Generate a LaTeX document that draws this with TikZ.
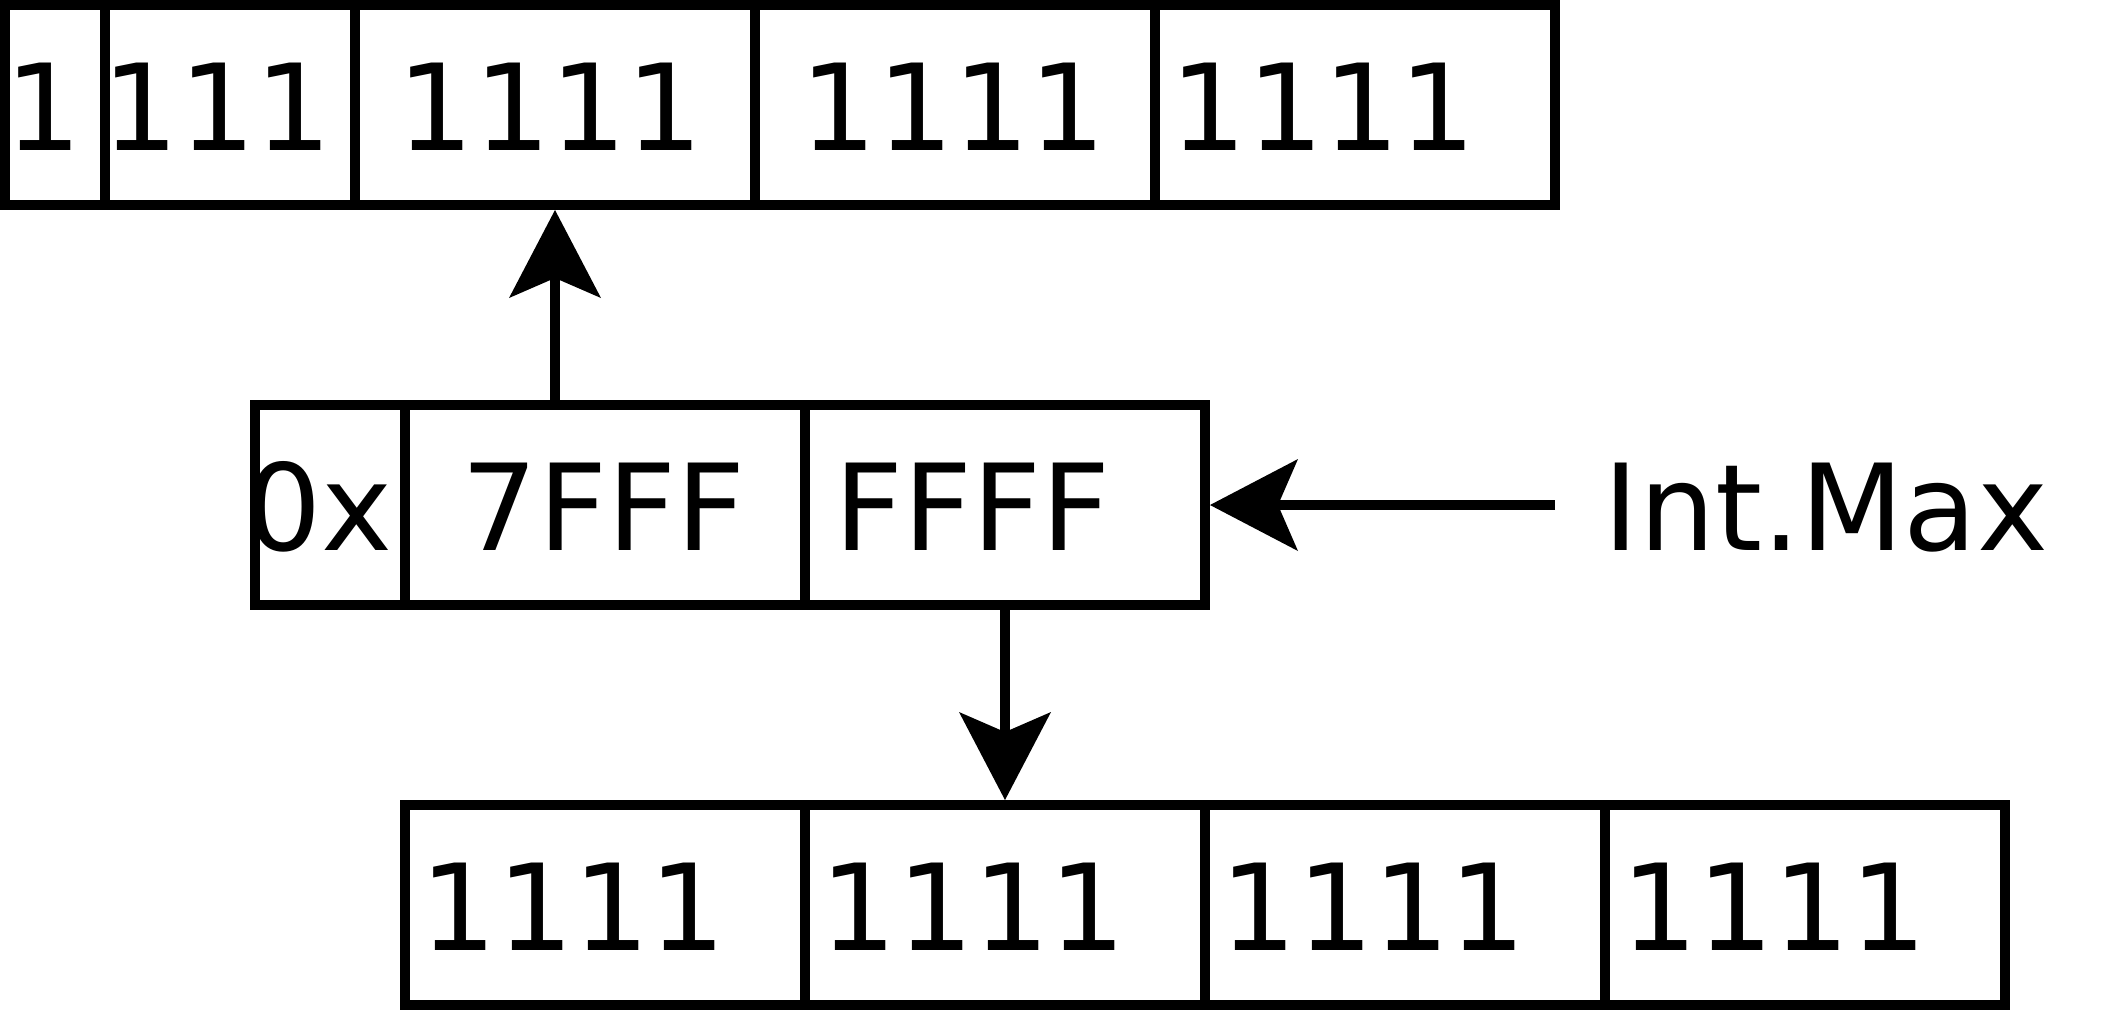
\documentclass[tikz,border=0pt]{standalone}
\usepackage{fontspec}
\setmainfont{DejaVu Sans}
\usetikzlibrary{arrows.meta}
\begin{document}
\begin{tikzpicture}[x=0.25pt,y=-0.25pt,
  cell/.style={draw, line width=2.5pt, minimum height=50pt, inner sep=0pt},
  wide/.style={cell, minimum width=100pt},
  lbl/.style={anchor=base, inner sep=0pt, font=\fontsize{30pt}{36pt}\selectfont},
  conn/.style={line width=2.5pt, -{Stealth[length=22pt, width=23pt, inset=5pt, line width=0pt]}}]
\useasboundingbox (0,0) rectangle (2120,1020);
% top row
\node[cell, minimum width=25pt]   (t1) at (55,105) {};
\node[cell, minimum width=62.5pt] (t2) at (230,105) {};
\node[wide] (t3) at (555,105) {};
\node[wide] (t4) at (955,105) {};
\node[wide] (t5) at (1355,105) {};
\node[lbl] (t1x) at (43.5,150) {1};
\node[lbl] (t2x) at (217.5,150) {111};
\node[lbl] (t3x) at (550.5,150) {1111};
\node[lbl] (t4x) at (953.5,150) {1111};
\node[lbl] (t5x) at (1323.5,150) {1111};
% middle row
\node[cell, minimum width=37.5pt] (m1) at (330,505) {};
\node[wide] (m2) at (605,505) {};
\node[wide] (m3) at (1005,505) {};
\node[lbl] (m1x) at (319,550) {0x};
\node[lbl] (m2x) at (603.5,550) {7FFF};
\node[lbl] (m3x) at (972.5,550) {FFFF};
\node[lbl] (imax) at (1826,550) {Int.Max};
% bottom row
\node[wide] (b1) at (605,905) {};
\node[wide] (b2) at (1005,905) {};
\node[wide] (b3) at (1405,905) {};
\node[wide] (b4) at (1805,905) {};
\node[lbl] (b1x) at (573.5,950) {1111};
\node[lbl] (b2x) at (973.5,950) {1111};
\node[lbl] (b3x) at (1373.5,950) {1111};
\node[lbl] (b4x) at (1774,950) {1111};
% connectors
\coordinate (src) at (1555,505);
\draw[conn] (t3.south |- m2.north) -- (t3.south);
\draw[conn] (m3.south) -- (b2.north);
\draw[conn] (src) -- (m3.east);
\end{tikzpicture}
\end{document}
